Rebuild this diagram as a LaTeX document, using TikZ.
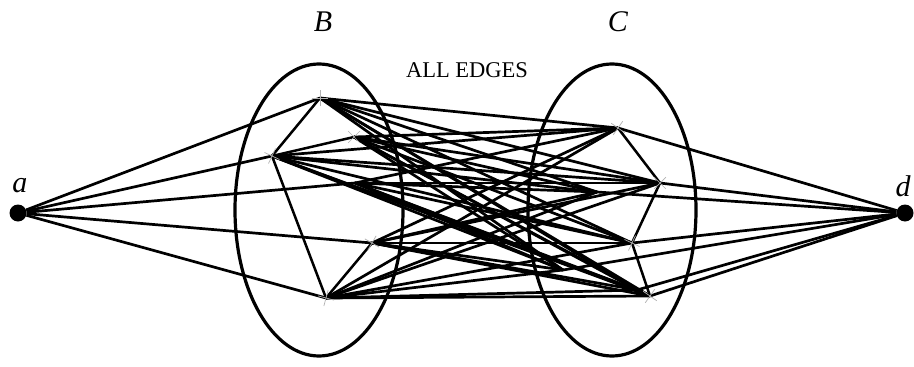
\documentclass[tikz,border=0pt]{standalone}
\usepackage{fontspec}
\setmainfont{Liberation Serif}
\usetikzlibrary{shapes.geometric,shapes.misc}
\begin{document}
\begin{tikzpicture}[x=1pt,y=-1pt,
  edge/.style={line width=2.7pt, black},
  inner/.style={line width=2.5pt, black},
  setring/.style={draw, ellipse, line width=3.2pt, inner sep=0pt, minimum width=168pt, minimum height=292pt},
  enddot/.style={circle, fill=black, inner sep=0pt, minimum size=17pt},
  vtx/.style={inner sep=0pt, minimum size=0pt},
  tickmark/.style={draw=gray!60, cross out, inner sep=0pt, minimum size=11pt, line width=0.7pt},
  lbl/.style={font=\fontsize{30}{30}\selectfont\itshape}
]
\useasboundingbox (0,0) rectangle (914,367);
\fill[white] (0,0) rectangle (914,367);

% set outlines
\node[setring] (B) at (319,210) {};
\node[setring] (C) at (612,210) {};

% labels
\node[lbl] (labB) at (323,22) {B};
\node[lbl] (labC) at (618,22) {C};
\node[font=\fontsize{22.5}{22.5}\selectfont] (labAll) at (467,70) {ALL EDGES};
\node[lbl] (laba) at (20,186) {a};
\node[lbl] (labd) at (903,186) {d};

% end vertices
\node[enddot] (a) at (18,213) {};
\node[enddot] (d) at (905,213) {};

% vertices of B
\node[vtx] (b1) at (320,98) {};
\node[vtx] (b5) at (354,137) {};
\node[vtx] (b2) at (272,156) {};
\node[vtx] (bx) at (355,183) {};
\node[vtx] (b3) at (372,243) {};
\node[vtx] (b4) at (326,298) {};

% vertices of C
\node[vtx] (c1) at (618,128) {};
\node[vtx] (c5) at (597,192) {};
\node[vtx] (c2) at (660,183) {};
\node[vtx] (c3) at (632,243) {};
\node[vtx] (c7) at (563,270) {};
\node[vtx] (c4) at (637,290) {};
\node[vtx] (c6) at (650,296) {};

% all edges between B and C
\foreach \u in {b1,b5,b2,bx,b3,b4}
  \foreach \v in {c1,c5,c2,c3,c7,c4,c6}
    \draw[edge] (\u.center) -- (\v.center);

% edges from a and d
\foreach \u in {b1,b2,bx,b3,b4}
  \draw[edge] (a) -- (\u.center);
\foreach \v in {c1,c5,c2,c3,c7,c4,c6}
  \draw[edge] (d) -- (\v.center);

% edges inside B and C
\draw[inner] (b1.center) -- (b2.center);
\draw[inner] (b2.center) -- (b5.center);
\draw[inner] (b2.center) -- (b4.center);
\draw[inner] (b4.center) -- (b3.center);
\draw[inner] (c1.center) -- (c2.center);
\draw[inner] (c2.center) -- (c3.center);
\draw[inner] (c3.center) -- (c6.center);

% faint tick marks at vertices
\node[tickmark, rotate=45] (t1) at (b1) {};
\node[tickmark, rotate=20] (t2) at (b2) {};
\node[tickmark, rotate=0] (t5) at (b5) {};
\node[tickmark, rotate=15] (t3) at (b3) {};
\node[tickmark, rotate=30] (t4) at (b4) {};
\node[tickmark, rotate=10] (t6) at (c1) {};
\node[tickmark, rotate=0] (t7) at (c2) {};
\node[tickmark, rotate=20] (t8) at (c3) {};
\node[tickmark, rotate=10] (t9) at (c6) {};
\end{tikzpicture}
\end{document}
